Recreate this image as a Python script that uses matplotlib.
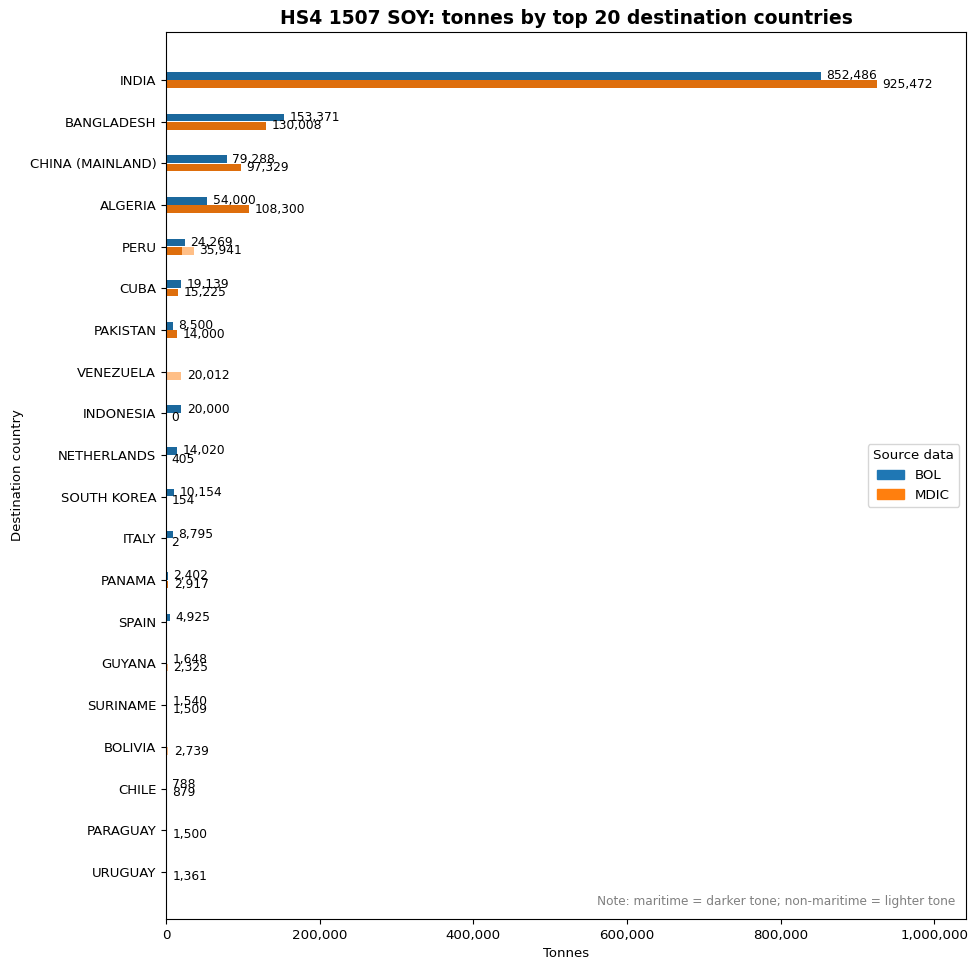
import numpy as np
import matplotlib
matplotlib.use("Agg")
import matplotlib.pyplot as plt
from matplotlib.patches import Patch
from matplotlib.colors import to_rgb

countries = ["INDIA", "BANGLADESH", "CHINA (MAINLAND)", "ALGERIA", "PERU", "CUBA",
             "PAKISTAN", "VENEZUELA", "INDONESIA", "NETHERLANDS", "SOUTH KOREA",
             "ITALY", "PANAMA", "SPAIN", "GUYANA", "SURINAME", "BOLIVIA", "CHILE",
             "PARAGUAY", "URUGUAY"]
nan = np.nan
bol_maritime = [852486, 153371, 79288, 54000, 24269, 19139, 8500, nan, 20000, 14020,
                10154, 8795, 2402, 4925, 1648, 1540, nan, 788, nan, nan]
bol_nonmaritime = [0, 0, 0, 0, 0, 0, 0, nan, 0, 0, 0, 0, 0, 0, 0, 0, nan, 0, nan, nan]
mdic_maritime = [925472, 130008, 97329, 108300, 21000, 15225, 14000, 0, 0, 405,
                 154, 2, 2917, nan, 0, 1509, 0, 879, 0, 0]
mdic_nonmaritime = [0, 0, 0, 0, 14941, 0, 0, 20012, 0, 0,
                    0, 0, 0, nan, 2325, 0, 2739, 0, 1500, 1361]

base_colors = {"BOL": "#1f77b4", "MDIC": "#ff7f0e"}

def dark(c, f=0.87):
    r, g, b = to_rgb(c)
    return (r * f, g * f, b * f)

def light(c, a=0.5):
    r, g, b = to_rgb(c)
    return (r + (1 - r) * a, g + (1 - g) * a, b + (1 - b) * a)

fig = plt.figure(figsize=(9.78, 9.69), dpi=100)
ax = fig.add_axes([166/978, 1 - 919/969, (966-166)/978, (919-32)/969])

y = np.arange(len(countries))
h = 0.18
series = [("BOL", bol_maritime, bol_nonmaritime, -0.1),
          ("MDIC", mdic_maritime, mdic_nonmaritime, 0.1)]
for name, mar, non, off in series:
    mar = np.array(mar, dtype=float)
    non = np.array(non, dtype=float)
    c = base_colors[name]
    ok = ~np.isnan(mar)
    ax.barh(y[ok] + off, mar[ok], height=h, color=dark(c))
    ax.barh(y[ok] + off, non[ok], height=h, left=mar[ok], color=light(c))
    for yi, m, n in zip(y[ok], mar[ok], non[ok]):
        tot = m + n
        ax.annotate(f"{tot:,.0f}", xy=(tot, yi + off), xytext=(4, 0),
                    textcoords="offset points", va="center", ha="left", fontsize=8.8)

ax.set_yticks(y)
ax.set_yticklabels(countries, fontsize=9.5)
ax.set_ylim(len(countries) - 1 + 1.13, -1.15)
ax.set_xlim(0, 925472 * 1.125)
ax.xaxis.set_major_formatter(matplotlib.ticker.FuncFormatter(lambda v, p: f"{v:,.0f}"))
ax.tick_params(axis="x", labelsize=9.6)
ax.set_xlabel("Tonnes", fontsize=9.5)
ax.set_ylabel("Destination country", fontsize=9.5)
ax.set_title("HS4 1507 SOY: tonnes by top 20 destination countries",
             fontsize=13.5, fontweight="bold")
handles = [Patch(color=base_colors["BOL"], label="BOL"),
           Patch(color=base_colors["MDIC"], label="MDIC")]
ax.legend(handles=handles, title="Source data", loc="center right", fontsize=9.6,
          title_fontsize=9.6)
ax.text(0.986, 0.012, "Note: maritime = darker tone; non-maritime = lighter tone",
        transform=ax.transAxes, ha="right", va="bottom", fontsize=8.7, color="gray")
fig.savefig("out.png", dpi=100)
